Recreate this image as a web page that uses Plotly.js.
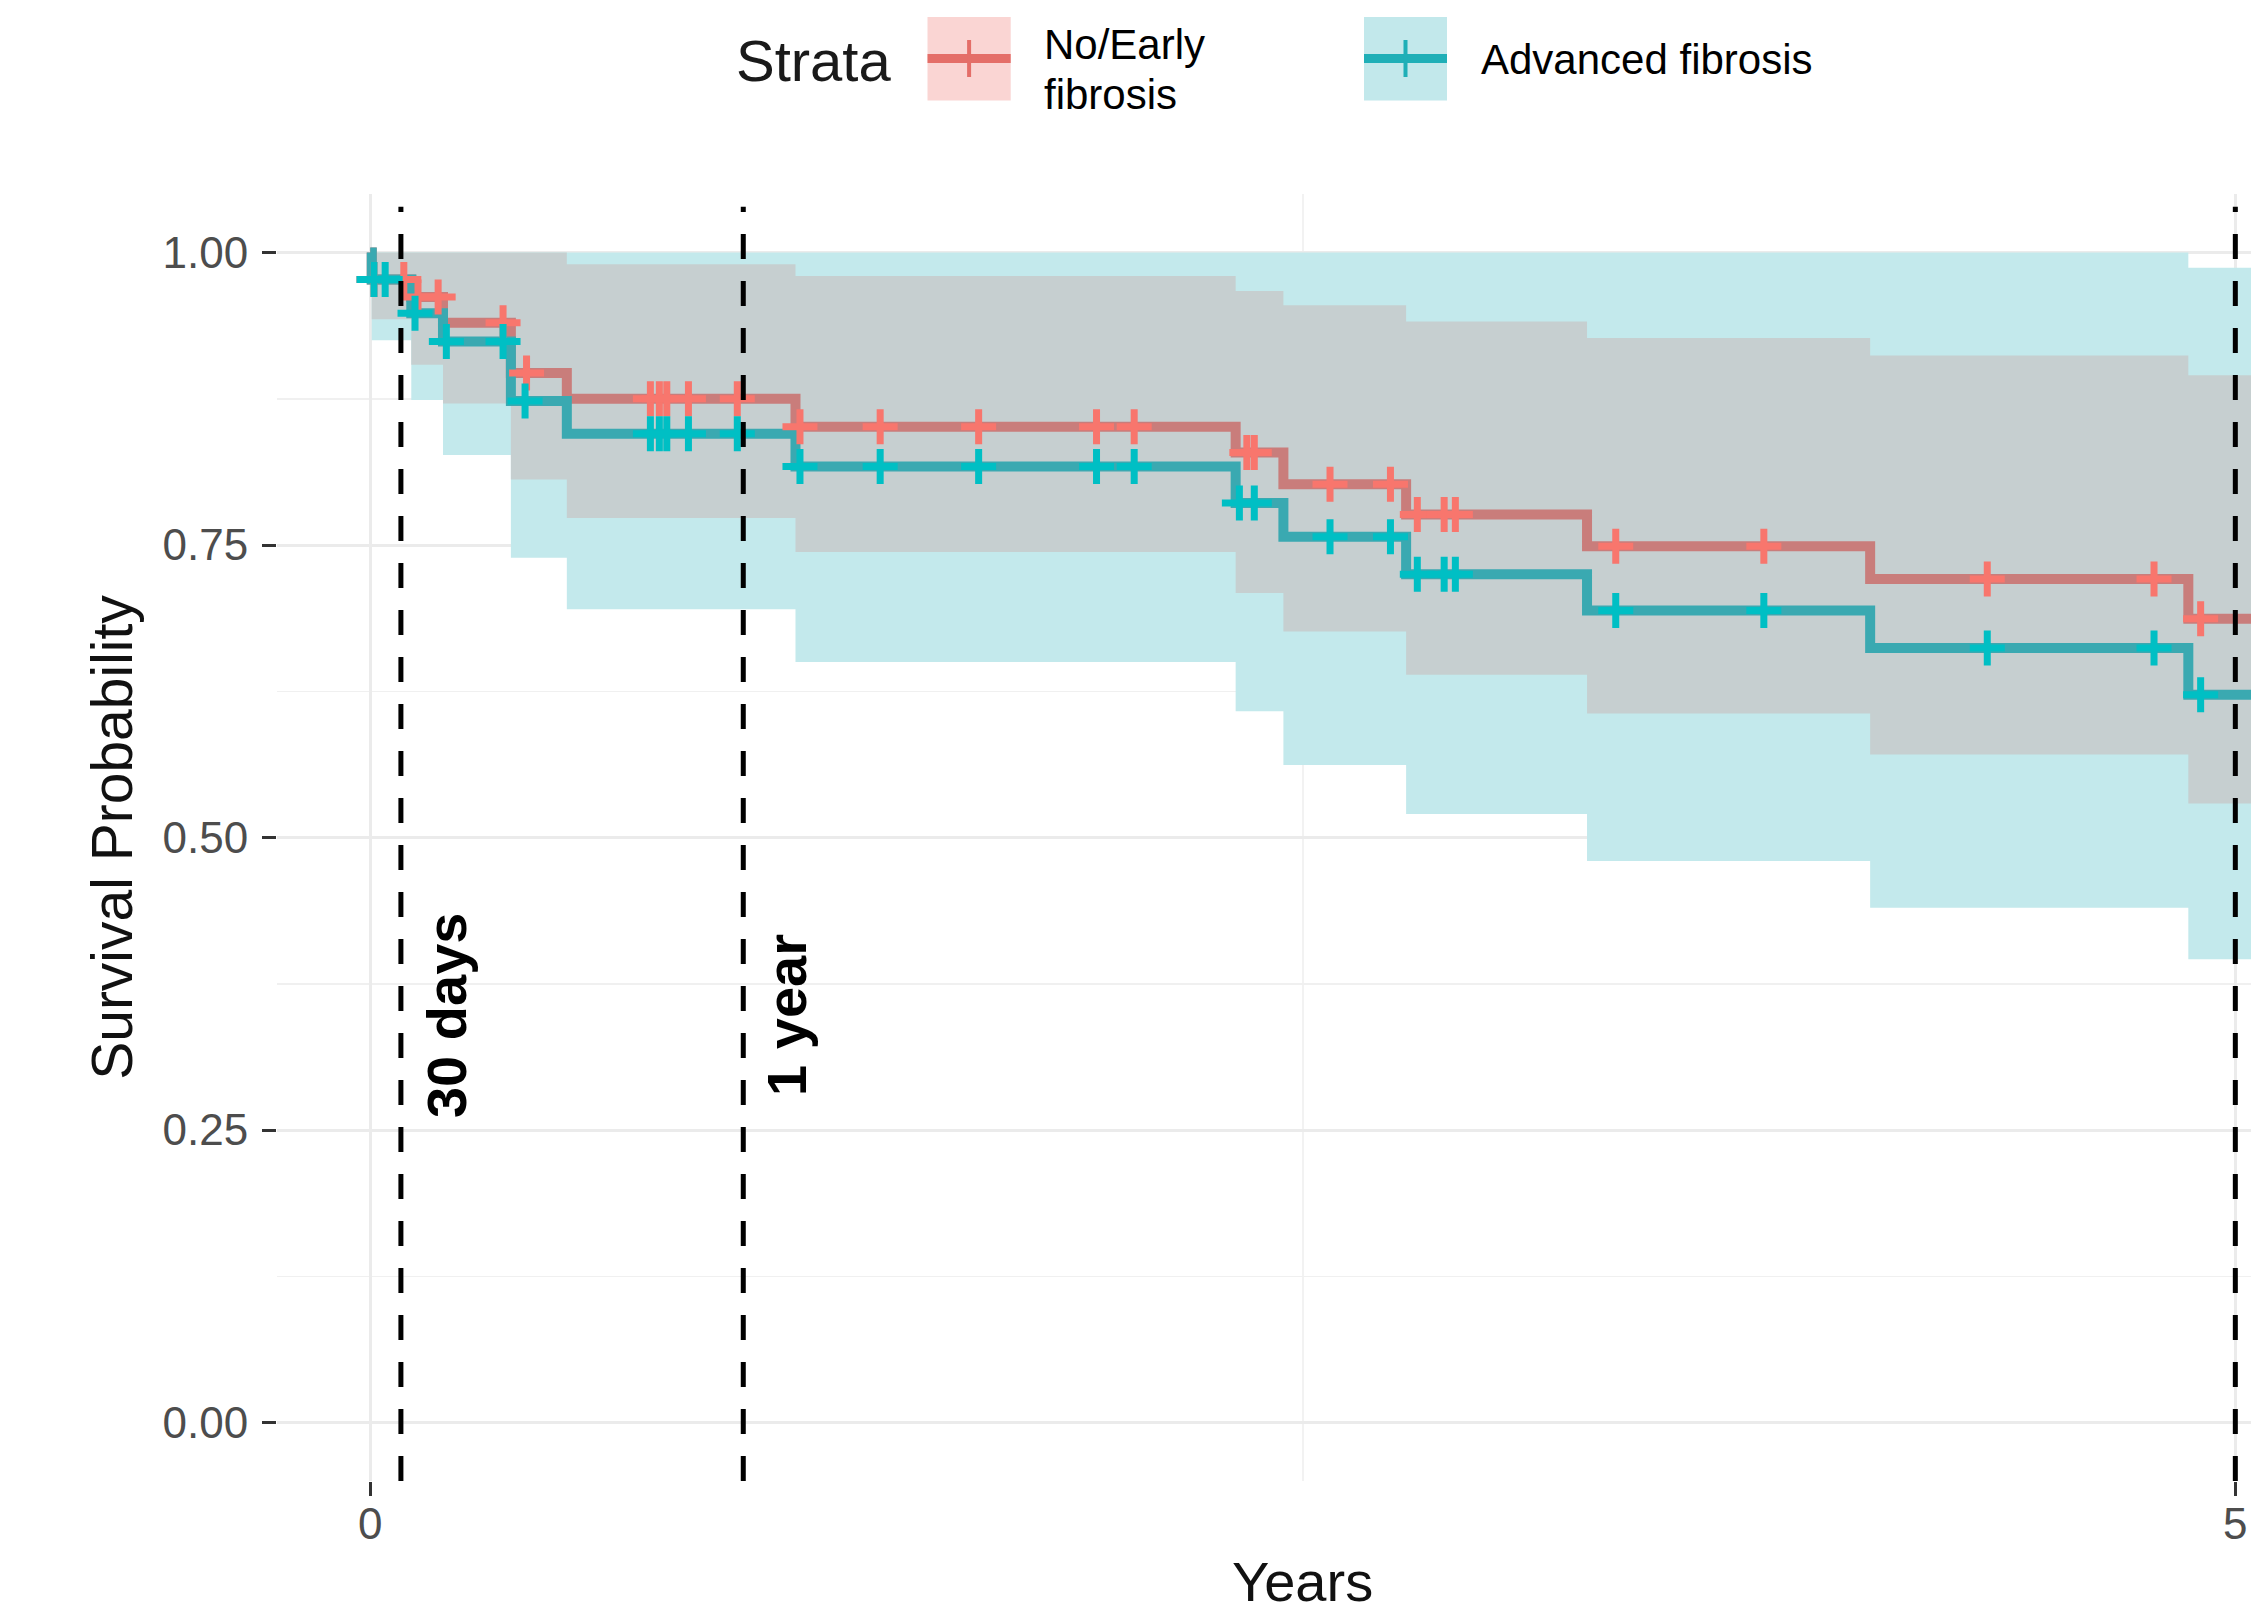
<!DOCTYPE html>
<html>
<head>
<meta charset="utf-8">
<script src="https://cdn.plot.ly/plotly-3.0.1.min.js"></script>
<style>html,body{margin:0;padding:0;background:#fff;}#chart{width:2251px;height:1616px;}</style>
</head>
<body>
<div id="chart"></div>
<script>
// ---- Data ----
const stepYears = [0, 0.004, 0.11, 0.195, 0.377, 0.527, 1.14, 2.32, 2.448, 2.777, 3.262, 4.021, 4.874, 5.06];

const survEarly  = [1, 0.977, 0.962, 0.940, 0.897, 0.875, 0.851, 0.829, 0.802, 0.776, 0.749, 0.721, 0.687, 0.687];
const upperEarly = [1, 1, 1, 1, 1, 0.990, 0.980, 0.967, 0.955, 0.941, 0.927, 0.912, 0.895, 0.895];
const lowerEarly = [1, 0.943, 0.904, 0.871, 0.806, 0.773, 0.744, 0.709, 0.676, 0.639, 0.606, 0.571, 0.529, 0.529];

const survAdv  = [1, 0.977, 0.948, 0.924, 0.873, 0.845, 0.817, 0.786, 0.757, 0.725, 0.694, 0.662, 0.622, 0.622];
const upperAdv = [1, 1, 1, 1, 1, 1, 1, 1, 1, 1, 1, 1, 0.987, 0.987];
const lowerAdv = [1, 0.925, 0.874, 0.827, 0.739, 0.695, 0.650, 0.608, 0.562, 0.520, 0.480, 0.440, 0.396, 0.396];

const censorEarly = [0.01, 0.09, 0.128, 0.182, 0.356, 0.419, 0.751, 0.775, 0.795, 0.853, 0.984, 1.152, 1.367, 1.631, 1.947, 2.048, 2.35, 2.37, 2.573, 2.735, 2.807, 2.879, 2.909, 3.339, 3.736, 4.335, 4.782, 4.907];
const censorAdv   = [0.01, 0.04, 0.12, 0.204, 0.356, 0.415, 0.751, 0.775, 0.795, 0.853, 0.984, 1.152, 1.367, 1.631, 1.947, 2.048, 2.33, 2.37, 2.573, 2.735, 2.807, 2.879, 2.909, 3.339, 3.736, 4.335, 4.782, 4.907];

const groupNames = ["No/Early fibrosis", "Advanced fibrosis"];
const legendLines = [["No/Early", "fibrosis"], ["Advanced fibrosis"]];
const legendTitle = "Strata";
const refLineYears = [30/365, 1, 5];
const refLabels = ["30 days", "1 year"];
const refLabelYears = [0.205, 1.116];
const refLabelY = 0.348;
const yTicks = [0, 0.25, 0.5, 0.75, 1];
const yMinor = [0.125, 0.375, 0.625, 0.875];
const xTicks = [0, 5];
const xMinor = [2.5];
const xTitle = "Years";
const yTitle = "Survival Probability";

// ---- Geometry ----
const W = 2251, H = 1616, ML = 277, MR = 0, MT = 194, MB = 135;
const PW = W - ML - MR, PH = H - MT - MB;
const px = x => (x - ML) / PW;
const py = y => (H - MB - y) / PH;

function stepAt(t, times, vals) {
  let v = vals[0];
  for (let i = 0; i < times.length; i++) { if (times[i] <= t) v = vals[i]; }
  return v;
}

const FONT = "Liberation Sans, Arial, sans-serif";
const redMark = "#F8766D", tealMark = "#00BFC4";
const redLine = "#c97d7b", tealLine = "#3aa9b1";

const traces = [
  {x: stepYears, y: upperAdv, mode: "lines", line: {width: 0, shape: "hv"}, hoverinfo: "skip", showlegend: false},
  {x: stepYears, y: lowerAdv, mode: "lines", line: {width: 0, shape: "hv"}, fill: "tonexty", fillcolor: "rgb(195,233,236)", hoverinfo: "skip", showlegend: false},
  {x: stepYears, y: upperEarly, mode: "lines", line: {width: 0, shape: "hv"}, hoverinfo: "skip", showlegend: false},
  {x: stepYears, y: lowerEarly, mode: "lines", line: {width: 0, shape: "hv"}, fill: "tonexty", fillcolor: "rgb(198,207,208)", hoverinfo: "skip", showlegend: false},
  {x: stepYears, y: survEarly, mode: "lines", name: groupNames[0], line: {color: redLine, width: 10, shape: "hv"}, showlegend: false},
  {x: stepYears, y: survAdv, mode: "lines", name: groupNames[1], line: {color: tealLine, width: 10, shape: "hv"}, showlegend: false},
  {x: censorEarly, y: censorEarly.map(t => stepAt(t, stepYears, survEarly)), mode: "markers", name: groupNames[0], showlegend: false,
   marker: {symbol: "cross-thin", size: 25, color: redMark, line: {color: redMark, width: 7}}},
  {x: censorAdv, y: censorAdv.map(t => stepAt(t, stepYears, survAdv)), mode: "markers", name: groupNames[1], showlegend: false,
   marker: {symbol: "cross-thin", size: 25, color: tealMark, line: {color: tealMark, width: 7}}}
];

const shapes = refLineYears.map(v => ({
  type: "line", xref: "x", yref: "paper", x0: v, x1: v, y0: 0, y1: 0.99, layer: "above",
  line: {color: "#000", width: 5, dash: "25px,22px"}
}));

// custom legend keys
const keyBoxes = [[927.5, 1010.7, "rgb(250,213,211)", "#e46e68"], [1364, 1447, "rgb(194,232,235)", "#1fafb7"]];
keyBoxes.forEach(k => {
  const cx = (k[0] + k[1]) / 2;
  shapes.push({type: "rect", xref: "paper", yref: "paper", x0: px(k[0]), x1: px(k[1]), y0: py(100.5), y1: py(17), fillcolor: k[2], line: {width: 0}});
  shapes.push({type: "line", xref: "paper", yref: "paper", x0: px(k[0]), x1: px(k[1]), y0: py(58.5), y1: py(58.5), line: {color: k[3], width: 9}});
  shapes.push({type: "line", xref: "paper", yref: "paper", x0: px(cx), x1: px(cx), y0: py(40), y1: py(77), line: {color: k[3], width: 4}});
});

const annotations = refLabels.map((t, i) => ({
  text: "<b>" + t + "</b>", x: refLabelYears[i], y: refLabelY, xref: "x", yref: "y",
  textangle: -90, showarrow: false, font: {family: FONT, size: 56, color: "#000"}
}));
const legFont = {family: FONT, size: 42, color: "#000"};
annotations.push({text: legendTitle, xref: "paper", yref: "paper", x: px(734), y: py(60), xanchor: "left", yanchor: "middle", showarrow: false, font: {family: FONT, size: 58, color: "#1a1a1a"}});
annotations.push({text: legendLines[0][0], xref: "paper", yref: "paper", x: px(1042), y: py(44.5), xanchor: "left", yanchor: "middle", showarrow: false, font: legFont});
annotations.push({text: legendLines[0][1], xref: "paper", yref: "paper", x: px(1042), y: py(94.5), xanchor: "left", yanchor: "middle", showarrow: false, font: legFont});
annotations.push({text: legendLines[1][0], xref: "paper", yref: "paper", x: px(1479), y: py(59), xanchor: "left", yanchor: "middle", showarrow: false, font: legFont});
// x-axis title centred on the full (cropped) ggplot panel
annotations.push({text: xTitle, xref: "x", yref: "paper", x: 2.5, y: py(1614), xanchor: "center", yanchor: "bottom", borderpad: 0, showarrow: false, font: {family: FONT, size: 56, color: "#111"}});

const layout = {
  width: W, height: H,
  margin: {l: ML, r: MR, t: MT, b: MB, pad: 0},
  paper_bgcolor: "#fff", plot_bgcolor: "#fff",
  showlegend: false,
  font: {family: FONT},
  xaxis: {
    range: [-0.25, 5.042], tickvals: xTicks, ticktext: xTicks.map(String),
    ticks: "outside", ticklen: 14, tickwidth: 3, tickcolor: "#333", ticklabelstandoff: -10,
    tickfont: {family: FONT, size: 44, color: "#4d4d4d"},
    showgrid: true, gridcolor: "#ebebeb", gridwidth: 3, zeroline: false, showline: false,
    minor: {tickvals: xMinor, showgrid: true, gridcolor: "#f2f2f2", gridwidth: 1.5, ticks: ""}
  },
  yaxis: {
    range: [-0.05, 1.05], tickvals: yTicks, ticktext: yTicks.map(v => v.toFixed(2)),
    ticks: "outside", ticklen: 14, tickwidth: 3, tickcolor: "#333", ticklabelstandoff: 5,
    tickfont: {family: FONT, size: 44, color: "#4d4d4d"},
    showgrid: true, gridcolor: "#ebebeb", gridwidth: 3, zeroline: false, showline: false,
    minor: {tickvals: yMinor, showgrid: true, gridcolor: "#f0f0f0", gridwidth: 1.5, ticks: ""},
    title: {text: yTitle, font: {family: FONT, size: 57, color: "#111"}, standoff: 11}
  },
  shapes: shapes,
  annotations: annotations
};

Plotly.newPlot("chart", traces, layout, {staticPlot: true, displayModeBar: false});
</script>
</body>
</html>
